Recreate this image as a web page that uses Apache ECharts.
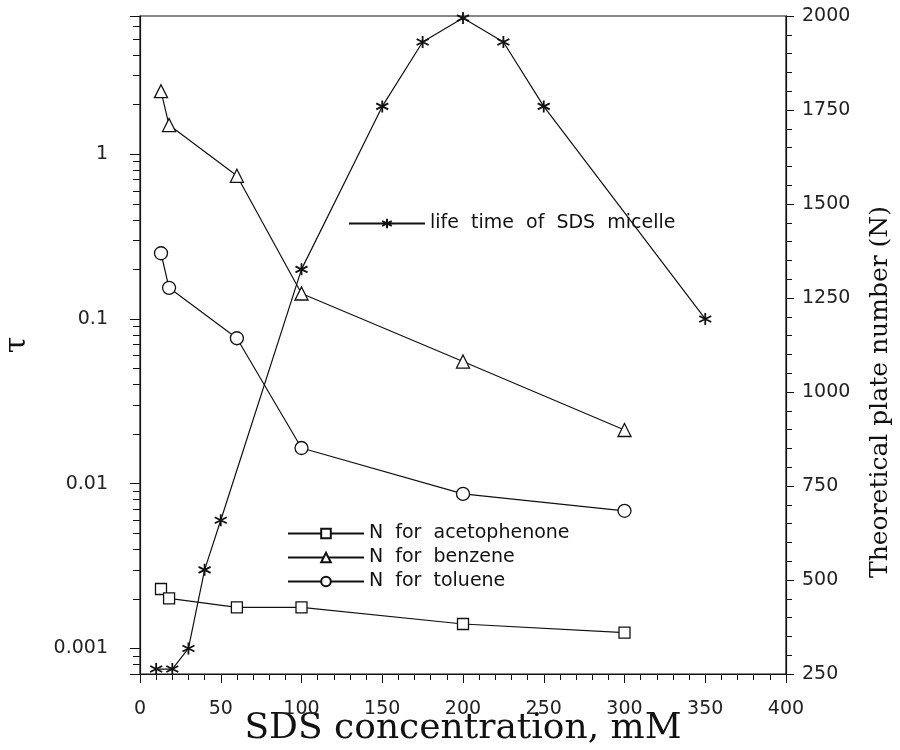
<!DOCTYPE html>
<html>
<head>
<meta charset="utf-8">
<script src="https://cdn.jsdelivr.net/npm/echarts@6/dist/echarts.min.js"></script>
<style>
  html, body { margin: 0; padding: 0; background: #fff; }
  #chart { width: 900px; height: 750px; }
</style>
</head>
<body>
<div id="chart"></div>
<script>
// SDS micelle life time (left, log axis)
const sdsConc = [10, 20, 30, 40, 50, 100, 150, 175, 200, 225, 250, 350];
const lifeTime = [0.00075, 0.00075, 0.001, 0.003, 0.006, 0.2, 1.95, 4.8, 6.7, 4.8, 1.95, 0.1];

// theoretical plate numbers (right axis)
const soluteConc = [13, 18, 60, 100, 200, 300];
const nAcetophenone = [476, 451, 427, 427, 383, 360];
const nBenzene = [1800, 1710, 1575, 1262, 1081, 899];
const nToluene = [1369, 1277, 1143, 851, 729, 684];

const xTicks = [0, 50, 100, 150, 200, 250, 300, 350, 400];
const rightTicks = [250, 500, 750, 1000, 1250, 1500, 1750, 2000];

const labelFont = "'DejaVu Sans', sans-serif";
const nameFont = "'DejaVu Serif', serif";
const ink = '#111';

const starPath = 'path://M5,0 L5,10 M0.67,2.5 L9.33,7.5 M0.67,7.5 L9.33,2.5';

function pairs(xs, ys) {
  return xs.map((x, i) => [x, ys[i]]);
}

const chart = echarts.init(document.getElementById('chart'));

const option = {
  animation: false,
  backgroundColor: '#fff',
  grid: {
    left: 140, right: 114, top: 16, bottom: 76,
    outerBoundsMode: 'none',
    containLabel: false,
    show: true, borderColor: ink, borderWidth: 1.2
  },
  legend: [
    {
      data: ['life  time  of  SDS  micelle'],
      left: 343, top: 209,
      itemWidth: 76, itemHeight: 12,
      textStyle: { fontFamily: labelFont, fontSize: 19, color: ink }
    },
    {
      data: ['N  for  acetophenone', 'N  for  benzene', 'N  for  toluene'],
      orient: 'vertical',
      left: 282, top: 519,
      itemWidth: 76, itemHeight: 12, itemGap: 5,
      textStyle: { fontFamily: labelFont, fontSize: 19, color: ink }
    }
  ],
  xAxis: {
    type: 'value',
    min: 0, max: 400, interval: 50,
    name: 'SDS concentration, mM',
    nameLocation: 'middle',
    nameGap: 37,
    nameMoveOverlap: false,
    nameTextStyle: { fontFamily: nameFont, fontSize: 36, color: ink },
    axisLine: { lineStyle: { color: ink, width: 1.2 } },
    axisTick: { show: true, inside: false, length: 9, lineStyle: { color: ink } },
    minorTick: { show: true, splitNumber: 5, length: 6, lineStyle: { color: ink } },
    splitLine: { show: false },
    axisLabel: {
      margin: 26,
      fontFamily: labelFont, fontSize: 19, color: '#222',
      formatter: v => xTicks.includes(v) ? String(v) : ''
    }
  },
  yAxis: [
    {
      type: 'log',
      logBase: 10,
      min: 0.0007, max: 6.9,
      position: 'left',
      name: 'τ',
      nameLocation: 'middle',
      nameGap: 108,
      nameMoveOverlap: false,
      nameTextStyle: { fontFamily: nameFont, fontSize: 30, color: ink },
      axisLine: { show: true, lineStyle: { color: ink, width: 1.2 } },
      axisTick: { show: true, inside: false, length: 10, lineStyle: { color: ink } },
      minorTick: { show: true, splitNumber: 9, length: 7, lineStyle: { color: ink } },
      splitLine: { show: false },
      axisLabel: {
        margin: 32,
        fontFamily: labelFont, fontSize: 19, color: '#222',
        showMinLabel: false, showMaxLabel: false,
        formatter: function (v) {
          const l = Math.log10(v);
          if (Math.abs(l - Math.round(l)) > 1e-6) return '';
          return String(Number(v.toPrecision(1)));
        }
      }
    },
    {
      type: 'value',
      min: 250, max: 2000, interval: 250,
      position: 'right',
      name: 'Theoretical plate number (N)',
      nameLocation: 'middle',
      nameGap: 82,
      nameRotate: 90,
      nameMoveOverlap: false,
      nameTextStyle: { fontFamily: nameFont, fontSize: 25, color: ink, padding: [0, 94, 0, 0] },
      axisLine: { show: true, lineStyle: { color: ink, width: 1.2 } },
      axisTick: { show: true, inside: false, length: 8, lineStyle: { color: ink } },
      minorTick: { show: true, splitNumber: 5, length: 6, lineStyle: { color: ink } },
      splitLine: { show: false },
      axisLabel: {
        margin: 16,
        fontFamily: labelFont, fontSize: 19, color: '#222',
        formatter: v => rightTicks.includes(v) ? String(v) : ''
      }
    }
  ],
  series: [
    {
      name: 'life  time  of  SDS  micelle',
      type: 'line',
      yAxisIndex: 0,
      data: pairs(sdsConc, lifeTime),
      symbol: starPath,
      symbolSize: 12,
      lineStyle: { color: ink, width: 1.2 },
      itemStyle: { color: 'none', borderColor: ink, borderWidth: 1.8 }
    },
    {
      name: 'N  for  acetophenone',
      type: 'line',
      yAxisIndex: 1,
      data: pairs(soluteConc, nAcetophenone),
      symbol: 'rect',
      symbolSize: 11,
      lineStyle: { color: ink, width: 1.2 },
      itemStyle: { color: '#fff', borderColor: ink, borderWidth: 1.3 }
    },
    {
      name: 'N  for  benzene',
      type: 'line',
      yAxisIndex: 1,
      data: pairs(soluteConc, nBenzene),
      symbol: 'triangle',
      symbolSize: 13,
      lineStyle: { color: ink, width: 1.2 },
      itemStyle: { color: '#fff', borderColor: ink, borderWidth: 1.3 }
    },
    {
      name: 'N  for  toluene',
      type: 'line',
      yAxisIndex: 1,
      data: pairs(soluteConc, nToluene),
      symbol: 'circle',
      symbolSize: 13,
      lineStyle: { color: ink, width: 1.2 },
      itemStyle: { color: '#fff', borderColor: ink, borderWidth: 1.3 }
    }
  ]
};

chart.setOption(option);
</script>
</body>
</html>
